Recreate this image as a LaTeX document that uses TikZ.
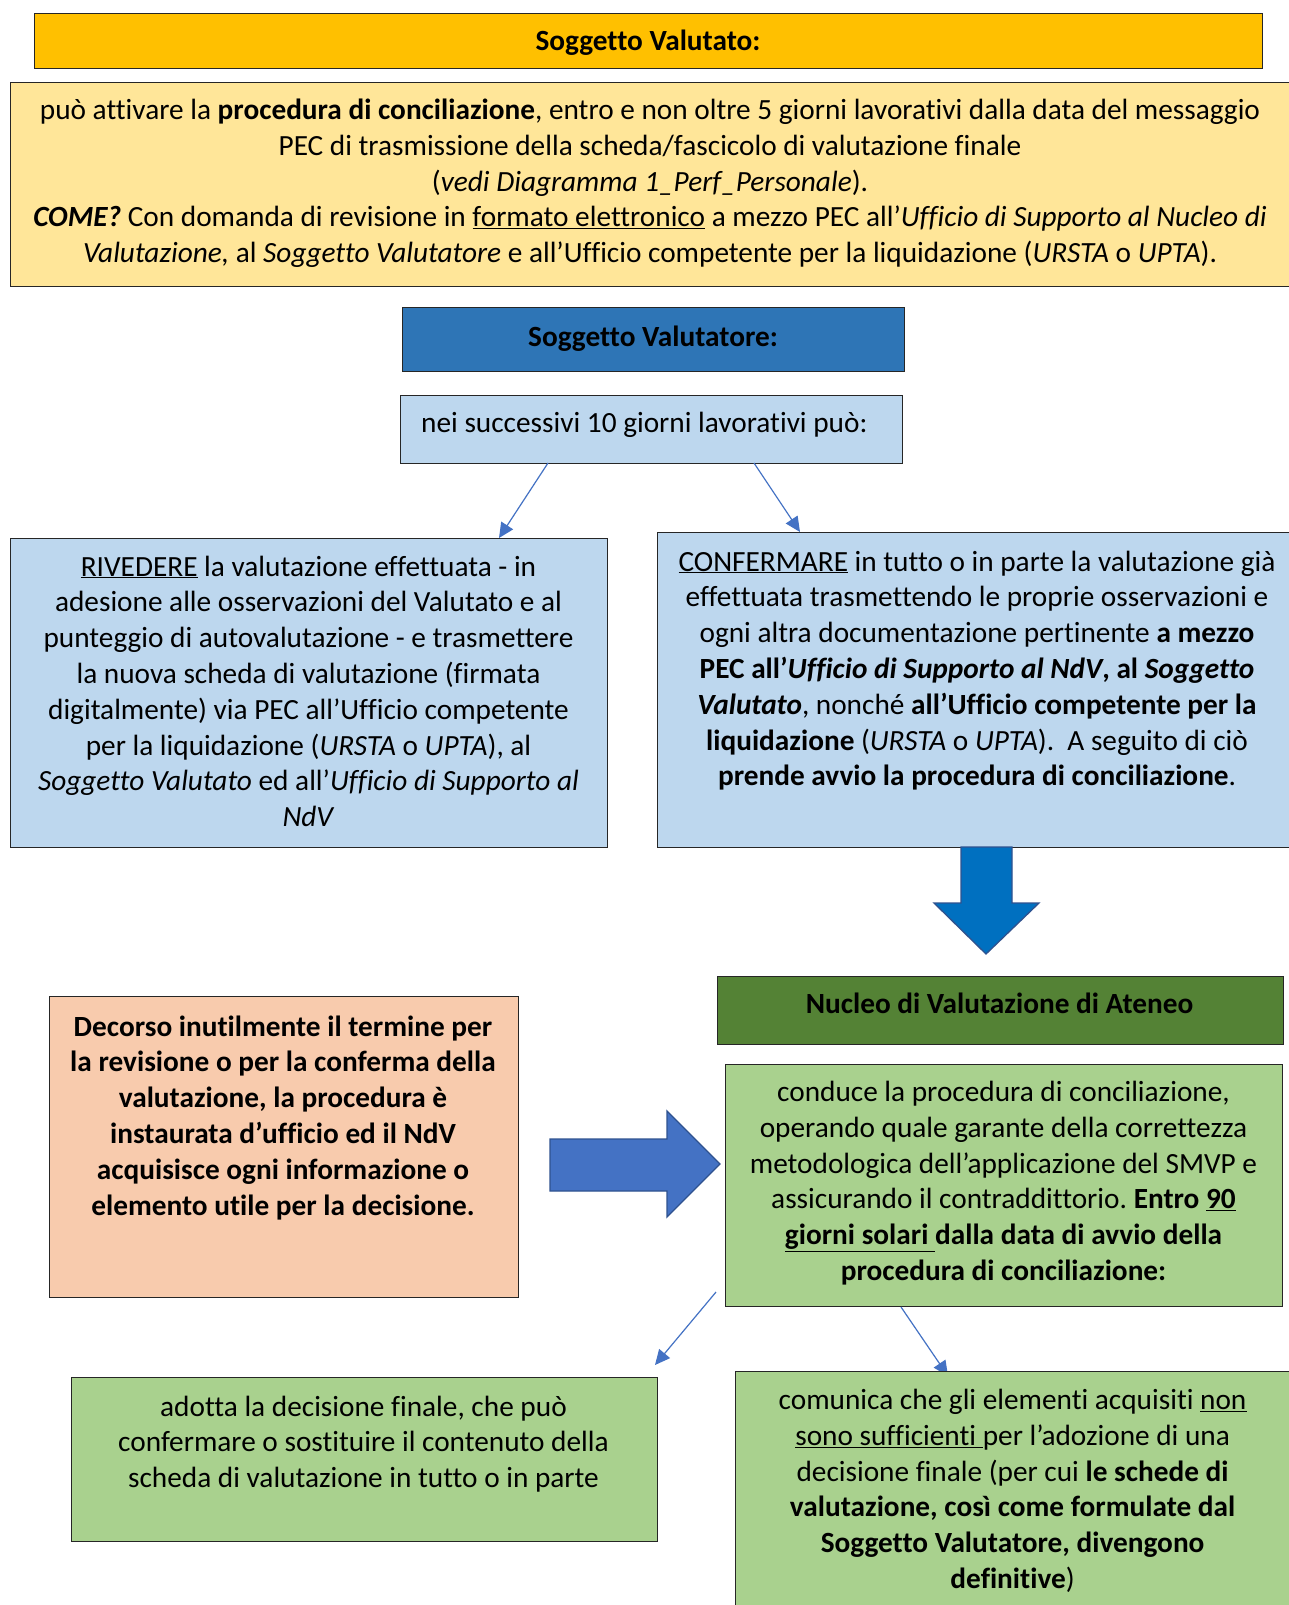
\documentclass[tikz,border=0pt]{standalone}
\usepackage{fontspec}
\setmainfont{Carlito}[Ligatures={NoCommon}]
\usetikzlibrary{arrows.meta}
\definecolor{cGold}{HTML}{FFC000}
\definecolor{cPaleY}{HTML}{FFE699}
\definecolor{cBlueD}{HTML}{2E75B6}
\definecolor{cBlueL}{HTML}{BDD7EE}
\definecolor{cOrange}{HTML}{F8CBAD}
\definecolor{cGreenD}{HTML}{548235}
\definecolor{cGreenL}{HTML}{A9D18E}
\definecolor{cArrow}{HTML}{4472C4}
\definecolor{cArrowD}{HTML}{0070C0}
\definecolor{cEdge}{HTML}{2F528F}
\tikzset{
  box/.style={draw=black!85, line width=1.3pt, inner sep=0pt, anchor=north west},
  txt/.style={inner sep=0pt, align=center, anchor=base, font=\fontsize{29.3}{35.8}\selectfont,
    execute at begin node={\spaceskip=6.62pt\relax\xspaceskip=6.62pt\relax}},
  thinarrow/.style={draw=cArrow, line width=1.2pt, -{Triangle[length=15pt,width=14pt]}},
  bigarrow/.style={line width=1.3pt, line join=miter}
}
\begin{document}
\begin{tikzpicture}[x=1pt,y=-1pt]
\useasboundingbox[fill=white] (0,0) rectangle (1288,1605);

% Soggetto Valutato
\node[box, fill=cGold, minimum width=1228pt, minimum height=55pt] (b1) at (34,13) {};
\node[txt, text width=1200pt] (t1) at (648,51) {\textbf{Soggetto Valutato:}};

% pale yellow box
\node[box, fill=cPaleY, minimum width=1280pt, minimum height=204pt] (b2) at (10,82) {};
\node[txt, text width=1275pt] (t2) at (650,119.6) {può attivare la \textbf{procedura di conciliazione}, entro e non oltre 5 giorni lavorativi dalla data del messaggio\\
PEC di trasmissione della scheda/fascicolo di valutazione finale\\
(\textit{vedi Diagramma 1\_Perf\_Personale}).\\
\textbf{\textit{COME?}} Con domanda di revisione in \underline{formato elettronico} a mezzo PEC all’\textit{Ufficio di Supporto al Nucleo di}\\
\textit{Valutazione,} al \textit{Soggetto Valutatore} e all’Ufficio competente per la liquidazione (\textit{URSTA} o \textit{UPTA}).};

% Soggetto Valutatore
\node[box, fill=cBlueD, minimum width=502pt, minimum height=64pt] (b3) at (402,307) {};
\node[txt, text width=490pt] (t3) at (653,346) {\textbf{Soggetto Valutatore:}};

% nei successivi
\node[box, fill=cBlueL, minimum width=502pt, minimum height=68pt] (b4) at (400,395) {};
\node[inner sep=0pt, anchor=base west, font=\fontsize{29.3}{35.8}\selectfont] (t4) at (421,432) {nei successivi 10 giorni lavorativi può:};

% RIVEDERE
\node[box, fill=cBlueL, minimum width=597pt, minimum height=309pt] (b5) at (10,538) {};
\node[txt, text width=590pt] (t5) at (308.5,576) {\underline{RIVEDERE} la valutazione effettuata - in\\
adesione alle osservazioni del Valutato e al\\
punteggio di autovalutazione - e trasmettere\\
la nuova scheda di valutazione (firmata\\
digitalmente) via PEC all’Ufficio competente\\
per la liquidazione (\textit{URSTA} o \textit{UPTA}), al\\
\textit{Soggetto Valutato} ed all’\textit{Ufficio di Supporto al}\\
\textit{NdV}};

% CONFERMARE
\node[box, fill=cBlueL, minimum width=640pt, minimum height=315pt] (b6) at (657,532) {};
\node[txt, text width=630pt] (t6) at (977,571) {\underline{CONFERMARE} in tutto o in parte la valutazione già\\
effettuata trasmettendo le proprie osservazioni e\\
ogni altra documentazione pertinente \textbf{a mezzo}\\
\textbf{PEC all’\textit{Ufficio di Supporto al NdV}, al \textit{Soggetto}}\\
\textbf{\textit{Valutato}}, nonché \textbf{all’Ufficio competente per la}\\
\textbf{liquidazione} (\textit{URSTA} o \textit{UPTA}).~ A seguito di ciò\\
\textbf{prende avvio la procedura di conciliazione}.};

% arrows from b4
\coordinate (a1s) at (548,463);
\coordinate (a1e) at (499,538);
\coordinate (a2s) at (754,463);
\coordinate (a2e) at (800,532);
\draw[thinarrow] (a1s) -- (a1e);
\draw[thinarrow] (a2s) -- (a2e);

% big down arrow
\draw[bigarrow, fill=cArrowD, draw=cEdge] (961,847) -- (1012,847) -- (1012,903) -- (1039,903) -- (986,954) -- (934,903) -- (961,903) -- cycle;

% Nucleo
\node[box, fill=cGreenD, minimum width=566pt, minimum height=68pt] (b7) at (717,976) {};
\node[txt, text width=550pt] (t7) at (999.5,1013) {\textbf{Nucleo di Valutazione di Ateneo}};

% Decorso
\node[box, fill=cOrange, minimum width=469pt, minimum height=301pt] (b8) at (49,996) {};
\node[txt, text width=460pt] (t8) at (283,1036) {\textbf{Decorso inutilmente il termine per}\\
\textbf{la revisione o per la conferma della}\\
\textbf{valutazione, la procedura è}\\
\textbf{instaurata d’ufficio ed il NdV}\\
\textbf{acquisisce ogni informazione o}\\
\textbf{elemento utile per la decisione.}};

% big right arrow
\draw[bigarrow, fill=cArrow, draw=cEdge] (550,1139) -- (667,1139) -- (667,1111) -- (720,1164) -- (667,1217) -- (667,1191) -- (550,1191) -- cycle;

% conduce
\node[box, fill=cGreenL, minimum width=557pt, minimum height=242pt] (b9) at (725,1064) {};
\node[txt, text width=550pt] (t9) at (1003.5,1101.5) {conduce la procedura di conciliazione,\\
operando quale garante della correttezza\\
metodologica dell’applicazione del SMVP e\\
assicurando il contraddittorio. \textbf{Entro \underline{90}}\\
\textbf{\underline{giorni solari\ }dalla data di avvio della}\\
\textbf{procedura di conciliazione:}};

% arrows from conduce
\coordinate (a3s) at (716,1292);
\coordinate (a3e) at (655,1365);
\coordinate (a4s) at (901,1307);
\coordinate (a4e) at (948,1376);
\draw[thinarrow] (a3s) -- (a3e);
\draw[thinarrow] (a4s) -- (a4e);

% adotta
\node[box, fill=cGreenL, minimum width=586pt, minimum height=164pt] (b10) at (71,1377) {};
\node[txt, text width=580pt] (t10) at (363.5,1416) {adotta la decisione finale, che può\\
confermare o sostituire il contenuto della\\
scheda di valutazione in tutto o in parte};

% comunica
\node[box, fill=cGreenL, minimum width=560pt, minimum height=250pt] (b11) at (735,1371) {};
\node[txt, text width=550pt] (t11) at (1012.6,1409.5) {comunica che gli elementi acquisiti \underline{non}\\
\underline{sono sufficienti\ }per l’adozione di una\\
decisione finale (per cui \textbf{le schede di}\\
\textbf{valutazione, così come formulate dal}\\
\textbf{Soggetto Valutatore, divengono}\\
\textbf{definitive})};
\end{tikzpicture}
\end{document}
